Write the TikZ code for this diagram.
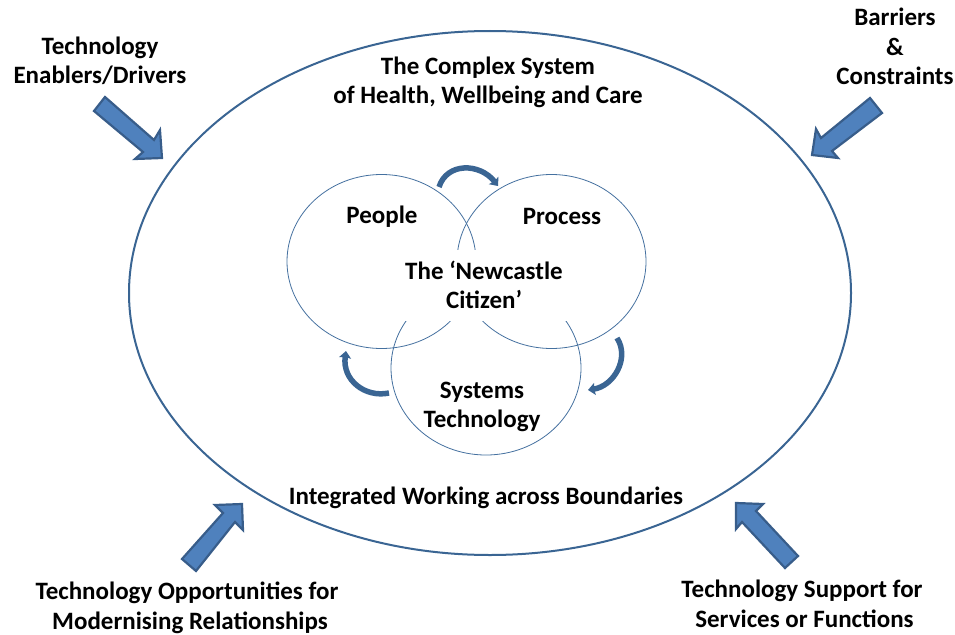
\documentclass[tikz,border=0pt]{standalone}
\usepackage{fontspec}
\setmainfont{Carlito}
\usetikzlibrary{arrows.meta}
\definecolor{ringblue}{HTML}{3A6593}
\definecolor{thinblue}{HTML}{44709F}
\definecolor{arrowfill}{HTML}{4F81BD}
\definecolor{arrowedge}{HTML}{385D8A}
\tikzset{
  lbl/.style={font=\fontsize{25}{29.5}\selectfont\bfseries,align=center,inner sep=0pt,text=black},
  ring/.style={draw=ringblue,line width=2pt},
  thin ring/.style={draw=thinblue,line width=0.8pt},
  block/.style={fill=arrowfill,draw=arrowedge,line width=2.2pt,line join=miter},
  cycle arrow/.style={draw=ringblue,line width=5.5pt,-{Stealth[length=7pt,width=12pt,inset=1pt]}}
}
\begin{document}
\begin{tikzpicture}[x=1pt,y=-1pt]
\useasboundingbox (0,0) rectangle (955,634);
\draw[ring] (490,293) ellipse [x radius=361,y radius=262];
\draw[thin ring] (381.5,261.5) ellipse [x radius=94.5,y radius=87];
\draw[thin ring] (551.5,261.5) ellipse [x radius=94.5,y radius=87];
\draw[thin ring] (486,368) ellipse [x radius=95,y radius=87];
\node[lbl,fill=white,minimum width=170pt,minimum height=71pt] (citizen) at (484,285) {The ‘Newcastle\\Citizen’};
\node[lbl] (people) at (382,217) {People};
\node[lbl] (process) at (562,216) {Process};
\node[lbl] (systems) at (482,407) {Systems\\Technology};
\node[lbl] (complex) at (488,82.5) {The Complex System\\of Health, Wellbeing and Care};
\node[lbl] (integrated) at (486,498) {Integrated Working across Boundaries};
\node[lbl] (enablers) at (100,61) {Technology\\Enablers/Drivers};
\node[lbl] (barriers) at (895,46.5) {Barriers\\\&\\Constraints};
\node[lbl] (opps) at (187,608) {Technology Opportunities for\\\hspace*{6pt}Modernising Relationships};
\node[lbl] (support) at (802,604) {Technology Support for\\\hspace*{5pt}Services or Functions};
\draw[block] (105,97)--(154,140)--(160,130)--(162,158)--(135,159)--(143,152)--(94,111)--cycle;
\draw[block] (182,559)--(223,513)--(215,505)--(242,504)--(243,530)--(235,522)--(196,571)--cycle;
\draw[block] (870,98)--(821,138)--(816,129)--(812,155)--(838,158)--(832,151)--(882,113)--cycle;
\draw[block] (798,556)--(756,511)--(763,504)--(736,503)--(736,529)--(742,522)--(785,568)--cycle;
\coordinate (a1) at (439,187);
\coordinate (a2) at (498,186);
\coordinate (b1) at (617,338);
\coordinate (b2) at (588,390);
\coordinate (c1) at (389,393);
\coordinate (c2) at (346,351);
\draw[cycle arrow] (a1) .. controls (447,162) and (480,163) .. (a2);
\draw[cycle arrow] (b1) .. controls (630,358) and (614,386) .. (b2);
\draw[cycle arrow] (c1) .. controls (365,398) and (342,380) .. (c2);
\end{tikzpicture}
\end{document}
